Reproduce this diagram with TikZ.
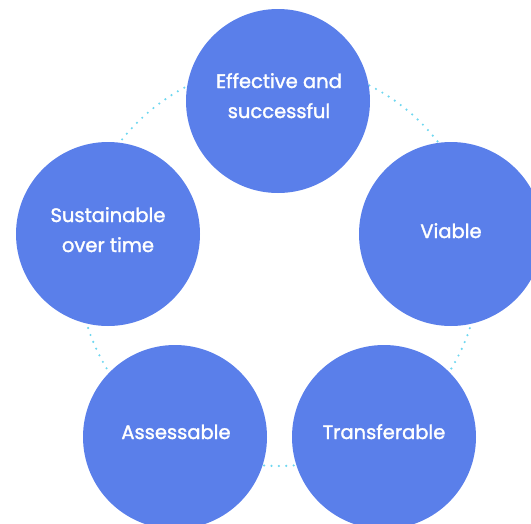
\documentclass[tikz,border=0pt]{standalone}
\usepackage{fontspec}
\setmainfont{Poppins}
\newfontfamily\capfont{Poppins}[FakeBold=1.6]
\definecolor{discblue}{RGB}{90,127,234}
\definecolor{ringdot}{RGB}{110,215,240}
\begin{document}
\begin{tikzpicture}[x=1pt,y=-1pt,
  disc/.style={circle,fill=discblue,draw=none,minimum size=184pt,inner sep=0pt},
  caption/.style={text=white,anchor=base,inner sep=0pt,font=\capfont\fontsize{19.5}{30}\selectfont},
  ring/.style={draw=ringdot,line width=2.4pt,line cap=round,dash pattern=on 0pt off 7.4pt}]
\useasboundingbox (0,0) rectangle (531,523);
% dotted ring joining the five discs
\coordinate (hub) at (279,265);
\draw[ring] (hub) circle[radius=201pt];
% the five discs
\node[disc] (effective) at (278,101) {};
\node[disc] (viable) at (451,234) {};
\node[disc] (transfer) at (384,437) {};
\node[disc] (assess) at (175,437) {};
\node[disc] (sustain) at (108,234) {};
% their captions, one node per line
\node[caption] (effective1) at (279,88) {Effective and};
\node[caption] (effective2) at (279,118) {successful};
\node[caption] (viable1) at (451,238) {Viable};
\node[caption] (transfer1) at (384,439) {Transferable};
\node[caption] (assess1) at (176,439) {Assessable};
\node[caption] (sustain1) at (108,222) {Sustainable};
\node[caption] (sustain2) at (108,252) {over time};
\end{tikzpicture}
\end{document}
